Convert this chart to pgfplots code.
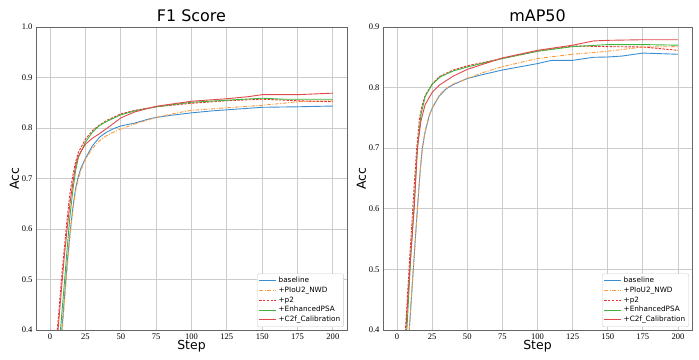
\documentclass[border=0pt]{standalone}
\usepackage{fontspec}
\setmainfont{Liberation Serif}
\newfontfamily\dejavu{DejaVu Sans}
\usepackage{pgfplots}
\pgfplotsset{compat=1.18}

\definecolor{cbase}{HTML}{3A8DD0}
\definecolor{cpiou}{HTML}{FF9A3C}
\definecolor{cp2}{HTML}{F03030}
\definecolor{cpsa}{HTML}{3CB43C}
\definecolor{ccal}{HTML}{E0484A}
\definecolor{gridc}{HTML}{CCCCCC}

\pgfplotsset{
  panel/.style={
    anchor=south west, scale only axis,
    height=303bp,
    xmin=-10, xmax=210, ymin=0.4,
    xtick={0,25,...,200},
    grid=major, major grid style={gridc, line width=0.9pt},
    axis line style={black!60, line width=0.8pt},
    tick style={draw=none},
    tick label style={font=\fontsize{8.6}{9}\selectfont},
    /pgf/number format/assume math mode=true,
    yticklabel style={/pgf/number format/fixed, /pgf/number format/fixed zerofill, /pgf/number format/precision=1},
    title style={font=\dejavu\fontsize{16}{18}\selectfont, yshift=-4bp},
    label style={font=\dejavu\fontsize{12.5}{14}\selectfont},
    xlabel={Step}, ylabel={Acc},
    xlabel style={yshift=6bp},
    ylabel style={yshift=-4bp},
    legend cell align=left,
    legend style={font=\dejavu\fontsize{7.3}{8}\selectfont, at={(0.99,0.01)}, anchor=south east,
      draw=gridc, rounded corners=2pt, row sep=-1.2pt, inner sep=1.5pt},
    every axis plot/.append style={line width=0.9pt},
  },
  sbase/.style={cbase},
  spiou/.style={cpiou, dash pattern=on 4pt off 1.5pt on 1pt off 1.5pt},
  sp2/.style={cp2, dash pattern=on 2.5pt off 1.3pt},
  spsa/.style={cpsa},
  scal/.style={ccal},
}

\begin{document}
\begin{tikzpicture}
\path[use as bounding box] (0,0) rectangle (699bp,360bp);

% ---------- F1 score ----------
\begin{axis}[panel, at={(36bp,30bp)}, width=311bp, ymax=1.0, ytick={0.4,0.5,...,1.0},
  title={F1 Score}]
\addplot[sbase] coordinates {
 (5,0.29)(8,0.39)(10,0.46)(12,0.53)(14,0.59)(16,0.64)(18,0.68)(20,0.705)(22,0.722)(25,0.74)
 (30,0.765)(35,0.782)(40,0.792)(45,0.799)(50,0.804)(60,0.810)(70,0.818)(75,0.821)(85,0.825)
 (100,0.830)(115,0.834)(125,0.836)(140,0.839)(150,0.841)(175,0.842)(200,0.8435)};
\addlegendentry{baseline}
\addplot[spiou] coordinates {
 (5,0.28)(8,0.38)(10,0.45)(12,0.52)(14,0.585)(16,0.635)(18,0.675)(20,0.70)(22,0.718)(25,0.738)
 (30,0.760)(35,0.775)(40,0.785)(45,0.792)(50,0.798)(60,0.808)(75,0.821)(90,0.830)(100,0.835)
 (115,0.838)(125,0.840)(140,0.843)(150,0.845)(165,0.849)(175,0.852)(200,0.854)};
\addlegendentry{+PIoU2\_NWD}
\addplot[sp2] coordinates {
 (3,0.34)(6,0.43)(8,0.50)(10,0.56)(12,0.62)(14,0.67)(16,0.705)(18,0.733)(20,0.752)(25,0.778)
 (30,0.795)(35,0.806)(40,0.815)(50,0.828)(60,0.835)(75,0.842)(100,0.849)(125,0.854)(150,0.857)
 (175,0.854)(200,0.852)};
\addlegendentry{+p2}
\addplot[spsa] coordinates {
 (4,0.33)(7.3,0.40)(10,0.49)(12,0.56)(14,0.625)(16,0.675)(18,0.715)(20,0.742)(25,0.772)
 (30,0.792)(35,0.805)(40,0.813)(50,0.826)(60,0.834)(75,0.842)(100,0.851)(125,0.855)(150,0.859)
 (165,0.857)(200,0.857)};
\addlegendentry{+EnhancedPSA}
\addplot[scal] coordinates {
 (3,0.32)(5.6,0.40)(8,0.48)(10,0.545)(12,0.60)(14,0.65)(16,0.69)(18,0.725)(20,0.745)(25,0.768)
 (30,0.780)(35,0.789)(40,0.799)(50,0.820)(60,0.832)(75,0.843)(100,0.853)(125,0.858)(140,0.862)
 (150,0.866)(175,0.866)(200,0.869)};
\addlegendentry{+C2f\_Calibration}
\end{axis}

% ---------- mAP50 ----------
\begin{axis}[panel, at={(383bp,30bp)}, width=309bp, ymax=0.9, ytick={0.4,0.5,...,0.9},
  title={mAP50}]
\addplot[sbase] coordinates {
 (5,0.27)(8.7,0.40)(11,0.48)(13,0.55)(14.5,0.60)(16.4,0.66)(18,0.70)(20,0.727)(22.7,0.752)(25,0.766)
 (30,0.786)(35,0.798)(40,0.805)(50,0.815)(60,0.821)(75,0.829)(100,0.8396)(110,0.845)(125,0.845)
 (140,0.850)(150,0.8505)(160,0.852)(175,0.857)(200,0.855)};
\addlegendentry{baseline}
\addplot[spiou] coordinates {
 (5,0.27)(8.7,0.40)(11,0.48)(13,0.55)(14.5,0.60)(16.4,0.66)(18,0.70)(20,0.728)(22.7,0.753)(25,0.767)
 (30,0.787)(35,0.799)(40,0.806)(50,0.815)(60,0.824)(75,0.8346)(100,0.848)(125,0.855)(150,0.860)
 (175,0.867)(200,0.8676)};
\addlegendentry{+PIoU2\_NWD}
\addplot[sp2] coordinates {
 (3,0.31)(6,0.40)(9,0.52)(12,0.63)(14,0.70)(16,0.75)(18,0.772)(20,0.787)(25,0.806)(30,0.818)
 (40,0.829)(50,0.836)(75,0.848)(100,0.860)(125,0.8687)(150,0.8676)(175,0.867)(200,0.8615)};
\addlegendentry{+p2}
\addplot[spsa] coordinates {
 (4,0.32)(7,0.40)(10,0.53)(12.5,0.62)(14.5,0.70)(17,0.755)(20,0.785)(25,0.8055)(31,0.818)
 (40,0.8275)(50,0.834)(75,0.848)(100,0.860)(125,0.8676)(150,0.871)(175,0.871)(200,0.870)};
\addlegendentry{+EnhancedPSA}
\addplot[scal] coordinates {
 (3,0.30)(6.3,0.40)(9,0.50)(12.2,0.60)(14.5,0.70)(17,0.745)(20,0.772)(25,0.792)(30,0.804)
 (40,0.819)(50,0.830)(75,0.849)(100,0.8615)(125,0.870)(140,0.877)(150,0.878)(175,0.879)(200,0.879)};
\addlegendentry{+C2f\_Calibration}
\end{axis}
\end{tikzpicture}
\end{document}
